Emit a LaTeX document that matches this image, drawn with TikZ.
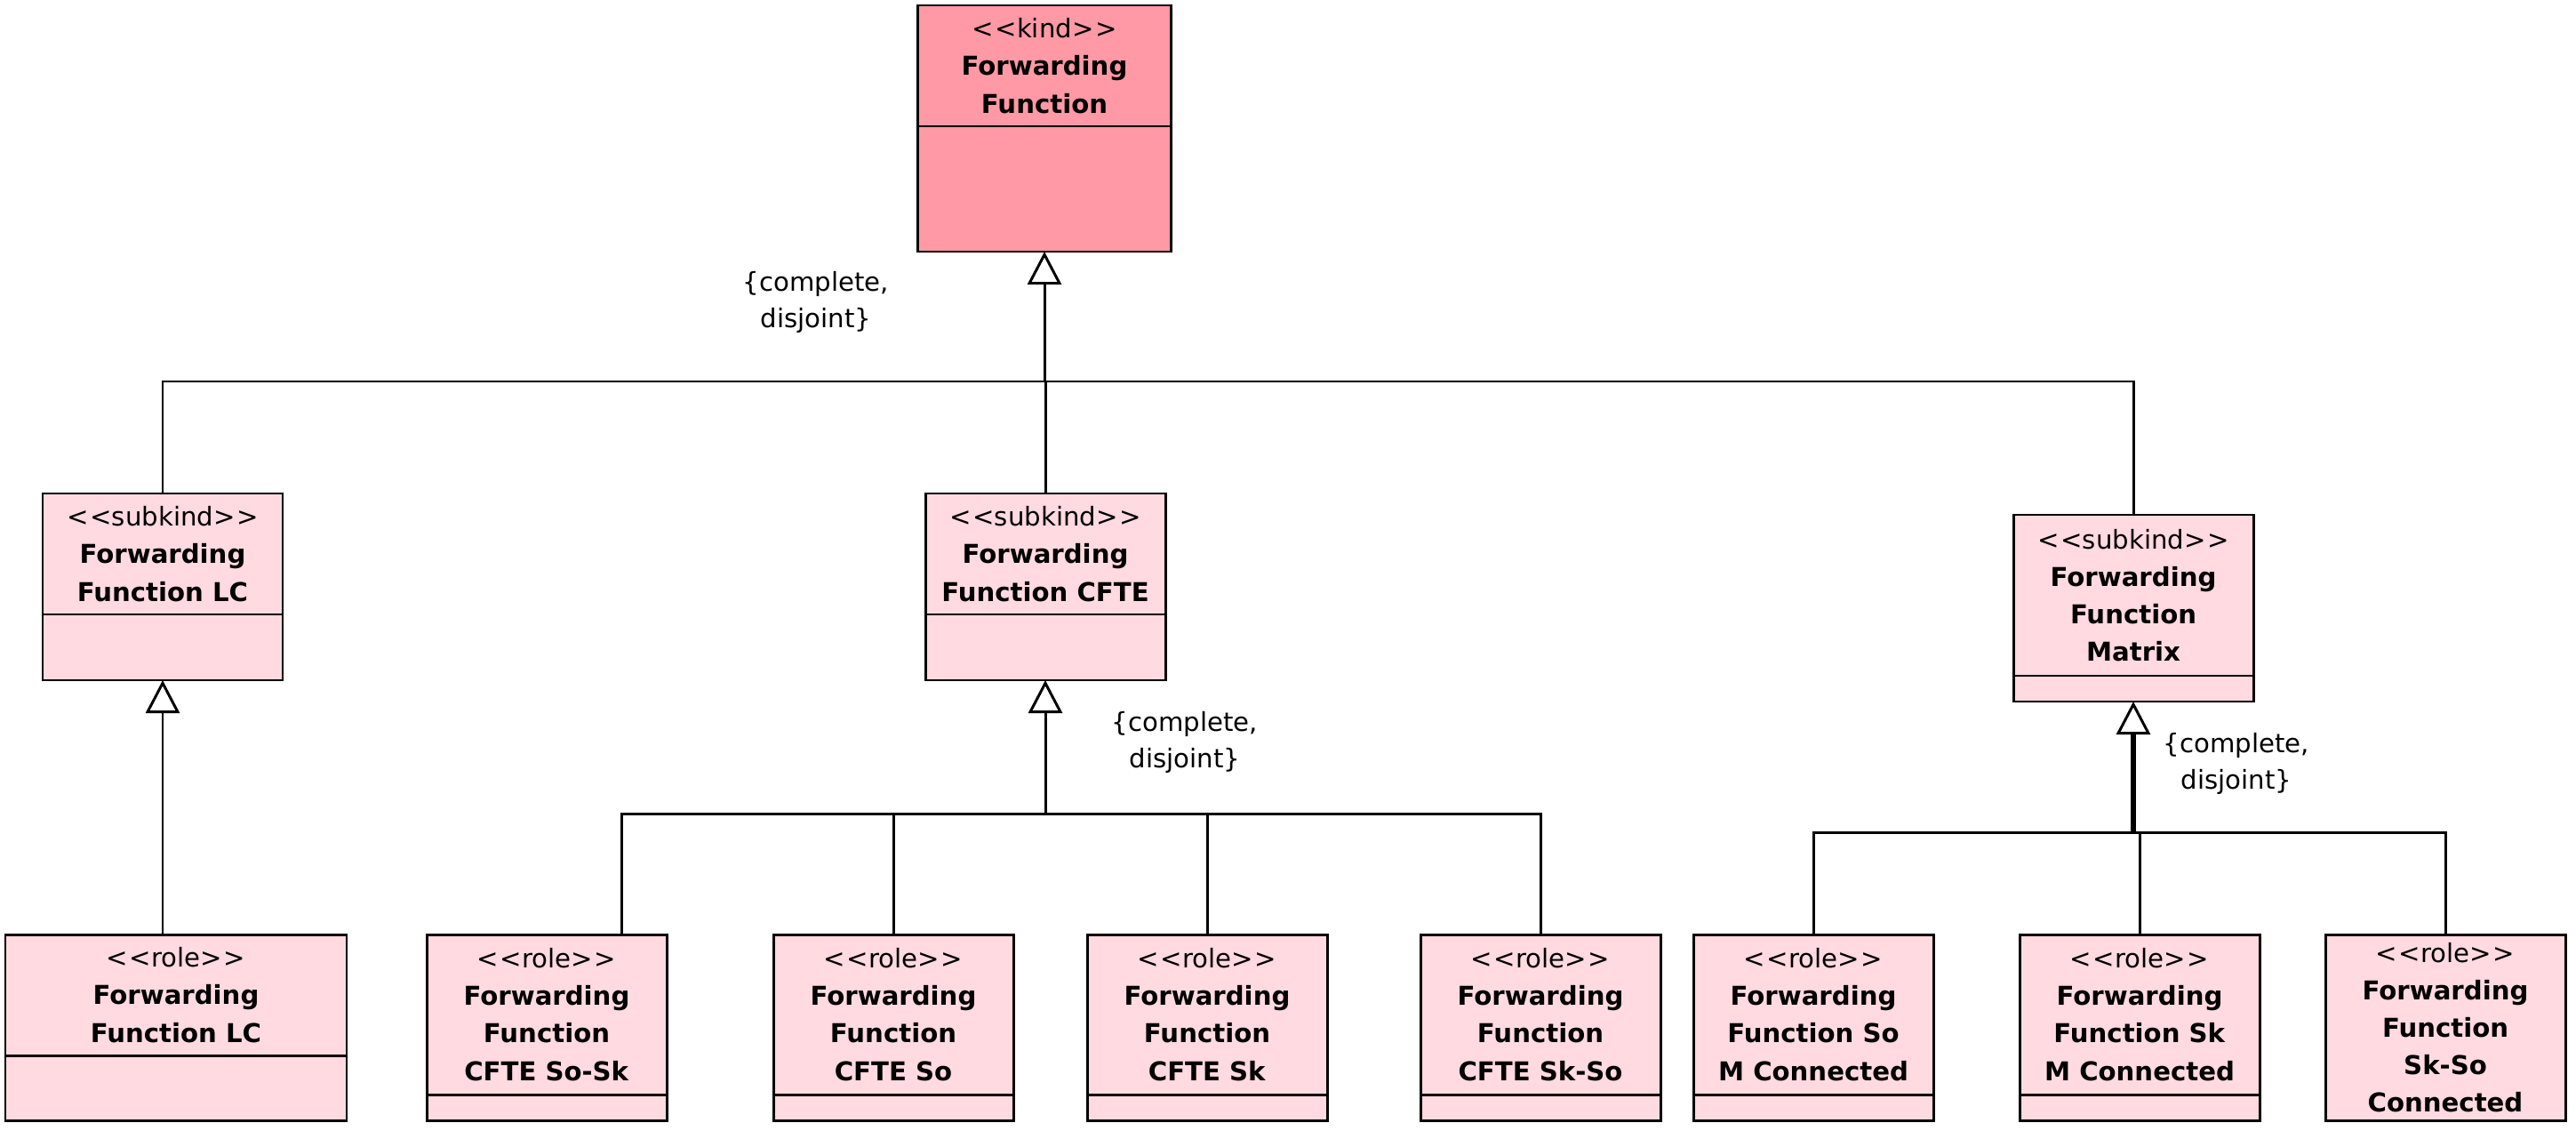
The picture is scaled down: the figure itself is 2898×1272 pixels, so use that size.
\documentclass[tikz,border=0pt]{standalone}
\usepackage{fontspec}
\setmainfont{DejaVu Sans}
\usepackage{xcolor}
\usetikzlibrary{arrows.meta,positioning,calc}
\definecolor{kindc}{RGB}{255,153,165}
\definecolor{rolec}{RGB}{255,218,224}
% the kerns keep << and >> from turning into guillemets
\newcommand{\stereo}[1]{<\kern0.5pt<#1>\kern0.5pt>}
\tikzset{
  uml/.style={draw, line width=0.85pt, inner sep=0pt, outer sep=0pt,
    align=center, font=\fontsize{8.3}{12}\selectfont, minimum width=27mm},
  head3/.style={uml, anchor=north, minimum height=13.6mm},
  head4/.style={uml, anchor=north, minimum height=18mm},
  body/.style={draw, line width=0.85pt, inner sep=0pt, outer sep=0pt,
    minimum width=27mm},
  conn/.style={line width=0.85pt},
  gen/.style={line width=0.85pt,
    -{Triangle[open, length=3.7mm, width=3.8mm, line width=0.85pt]}},
  gsl/.style={font=\fontsize{8.3}{11.5}\selectfont, align=center, inner sep=0pt}}

\begin{document}
\begin{tikzpicture}[x=0.1mm, y=-0.1mm]
  \useasboundingbox (0,0) rectangle (2898,1272);
  % ---- the kind at the top
  \node[head3, fill=kindc, minimum width=28.5mm] (FFh) at (1175,6)
    {\stereo{kind}\\\textbf{Forwarding}\\\textbf{Function}};
  \node[body, fill=kindc, minimum width=28.5mm, minimum height=14.1mm,
    below=0pt of FFh] (FFb) {};
  % ---- its three subkinds
  \node[head3, fill=rolec] (LCh) at (183,555)
    {\stereo{subkind}\\\textbf{Forwarding}\\\textbf{Function LC}};
  \node[body, fill=rolec, minimum height=7.4mm, below=0pt of LCh] (LCb) {};
  \node[head3, fill=rolec] (CFh) at (1176,555)
    {\stereo{subkind}\\\textbf{Forwarding}\\\textbf{Function CFTE}};
  \node[body, fill=rolec, minimum height=7.4mm, below=0pt of CFh] (CFb) {};
  \node[head4, fill=rolec, minimum height=18.1mm] (MXh) at (2400,579)
    {\stereo{subkind}\\\textbf{Forwarding}\\\textbf{Function}\\\textbf{Matrix}};
  \node[body, fill=rolec, minimum height=2.9mm, below=0pt of MXh] (MXb) {};
  % ---- the roles
  \node[head3, fill=rolec, minimum width=38.4mm] (LCRh) at (198,1051)
    {\stereo{role}\\\textbf{Forwarding}\\\textbf{Function LC}};
  \node[body, fill=rolec, minimum width=38.4mm, minimum height=7.3mm,
    below=0pt of LCRh] (LCRb) {};
  \node[head4, fill=rolec] (SoSkh) at (615,1051)
    {\stereo{role}\\\textbf{Forwarding}\\\textbf{Function}\\\textbf{CFTE So-Sk}};
  \node[body, fill=rolec, minimum height=2.9mm, below=0pt of SoSkh] (SoSkb) {};
  \node[head4, fill=rolec] (CSoh) at (1005,1051)
    {\stereo{role}\\\textbf{Forwarding}\\\textbf{Function}\\\textbf{CFTE So}};
  \node[body, fill=rolec, minimum height=2.9mm, below=0pt of CSoh] (CSob) {};
  \node[head4, fill=rolec] (CSkh) at (1358,1051)
    {\stereo{role}\\\textbf{Forwarding}\\\textbf{Function}\\\textbf{CFTE Sk}};
  \node[body, fill=rolec, minimum height=2.9mm, below=0pt of CSkh] (CSkb) {};
  \node[head4, fill=rolec] (SkSoh) at (1733,1051)
    {\stereo{role}\\\textbf{Forwarding}\\\textbf{Function}\\\textbf{CFTE Sk-So}};
  \node[body, fill=rolec, minimum height=2.9mm, below=0pt of SkSoh] (SkSob) {};
  \node[head4, fill=rolec] (SoMh) at (2040,1051)
    {\stereo{role}\\\textbf{Forwarding}\\\textbf{Function So}\\\textbf{M Connected}};
  \node[body, fill=rolec, minimum height=2.9mm, below=0pt of SoMh] (SoMb) {};
  \node[head4, fill=rolec] (SkMh) at (2407,1051)
    {\stereo{role}\\\textbf{Forwarding}\\\textbf{Function Sk}\\\textbf{M Connected}};
  \node[body, fill=rolec, minimum height=2.9mm, below=0pt of SkMh] (SkMb) {};
  % the last one has no room left for its lower compartment
  \node[uml, anchor=north, fill=rolec, minimum height=20.9mm] (SkSoCh) at (2751,1051)
    {\stereo{role}\\\textbf{Forwarding}\\\textbf{Function}\\\textbf{Sk-So}\\\textbf{Connected}};
  % ---- generalization sets
  \coordinate (gs1) at (1175,429);
  \draw[gen] (gs1) -- (FFb.south);
  \draw[conn] (LCh.north) |- (gs1) -| (MXh.north);
  \draw[conn] (CFh.north) -- (CFh.north |- gs1);
  \node[gsl] (gsl1) at (918,340) {\{complete,\\disjoint\}};

  \draw[gen] (LCb.south |- LCRh.north) -- (LCb.south);

  \coordinate (gs2) at (1176,915);
  \draw[gen] (gs2) -- (CFb.south);
  \draw[conn] ($(SoSkh.north east)+(-51,0)$) |- (gs2) -| (SkSoh.north);
  \draw[conn] (CSoh.north) -- (CSoh.north |- gs2);
  \draw[conn] (CSkh.north) -- (CSkh.north |- gs2);
  \node[gsl] (gsl2) at (1333,835) {\{complete,\\disjoint\}};

  \coordinate (gs3) at (2400,936);
  \draw[gen, line width=1.7pt] (gs3) -- (MXb.south);
  \draw[conn] (SoMh.north) |- (gs3) -| (SkSoCh.north);
  \draw[conn] (SkMh.north) -- (SkMh.north |- gs3);
  \node[gsl] (gsl3) at (2516,859) {\{complete,\\disjoint\}};
\end{tikzpicture}
\end{document}
